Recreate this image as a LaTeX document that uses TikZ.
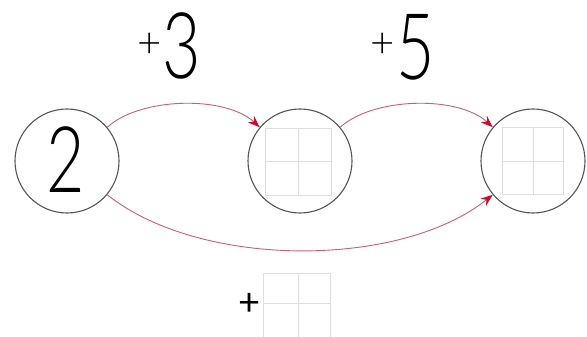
\documentclass[tikz,border=0pt]{standalone}
\usepackage{fontspec}
\newfontfamily\thin{Lato Light}
\newfontfamily\plusfont{Lato}
\usetikzlibrary{arrows.meta}
\definecolor{arrline}{RGB}{200,95,115}
\definecolor{arrhead}{RGB}{205,10,45}
\definecolor{ring}{RGB}{85,85,85}
\definecolor{gridc}{RGB}{222,222,222}
\begin{document}
\begin{tikzpicture}[x=1pt,y=-1pt,
  circ/.style={circle,draw=ring,line width=1.1pt,minimum size=104pt,inner sep=0pt},
  arr/.style={draw=arrline,line width=0.9pt,-{Stealth[length=12pt,width=9pt,color=arrhead]}},
  digit/.style={font=\thin\fontsize{92}{92}\selectfont,xscale=0.72,inner sep=0pt},
  plus/.style={font=\thin\fontsize{42}{42}\selectfont,inner sep=0pt},
  plusb/.style={font=\plusfont\fontsize{38}{38}\selectfont,inner sep=0pt},
  gridbox/.style={draw=gridc,line width=0.8pt}]
\useasboundingbox (0,0) rectangle (587,337);
% grids
\draw[gridbox] (265,128) rectangle (331,195) (298,128) -- (298,195) (265,161) -- (331,161);
\draw[gridbox] (502,127) rectangle (563,194) (533,127) -- (533,194) (502,161) -- (563,161);
\draw[gridbox] (263,273) rectangle (330,340) (298,273) -- (298,340) (263,303) -- (330,303);
% circles
\node[circ] (L) at (67,161) {};
\node[circ] (M) at (300,161) {};
\node[circ] (R) at (533,161) {};
\node[digit] (two) at (66,160) {2};
% labels
\node[plus] (p3) at (150,45) {+};
\node[digit] (t3) at (182,46) {3};
\node[plus] (p5) at (383,45) {+};
\node[digit] (t5) at (416,47) {5};
\node[plusb] (pb) at (250,304) {+};
% arrows
\draw[arr] (L.40) .. controls +(33,-30) and +(-35,-32) .. (M.140);
\draw[arr] (M.40) .. controls +(33,-30) and +(-35,-32) .. (R.140);
\draw[arr] (L.-40) .. controls +(93,74) and +(-93,74) .. (R.220);
\end{tikzpicture}
\end{document}
